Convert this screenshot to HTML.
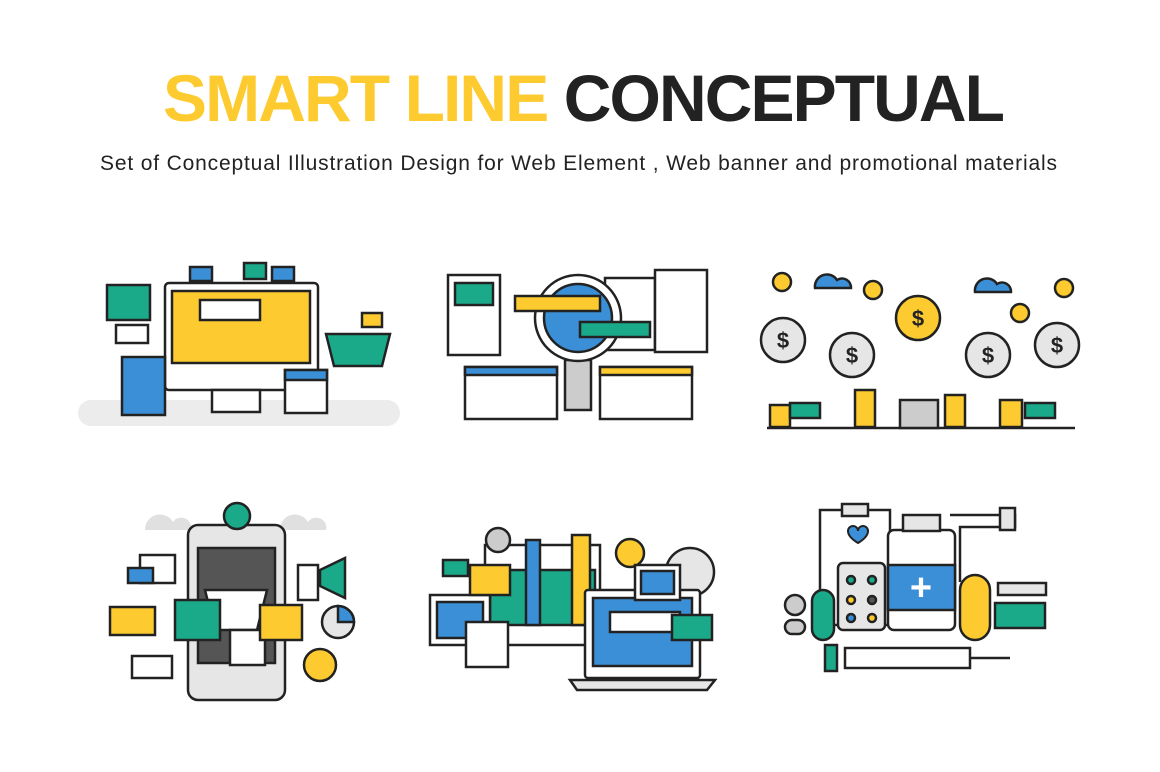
<!DOCTYPE html>
<html><head><meta charset="utf-8"><style>
html,body{margin:0;padding:0;background:#fff;width:1160px;height:772px;overflow:hidden}
svg{display:block}
</style></head><body>
<svg width="1160" height="772" viewBox="0 0 1160 772" xmlns="http://www.w3.org/2000/svg" font-family="Liberation Sans, sans-serif">
<text x="163" y="121" font-size="66" font-weight="bold" textLength="842" lengthAdjust="spacing"><tspan fill="#fdcb2f">SMART LINE </tspan><tspan fill="#222">CONCEPTUAL</tspan></text>
<text x="100" y="170" font-size="21" fill="#222" textLength="957" lengthAdjust="spacing">Set of Conceptual Illustration Design for Web Element , Web banner  and promotional materials</text>

<g stroke="#222" stroke-width="2.5">
<!-- Panel 1 -->
<rect x="78" y="400" width="322" height="26" rx="13" fill="#ececec" stroke="none"/>
<rect x="165" y="283" width="153" height="107" rx="4" fill="#fff"/>
<rect x="172" y="291" width="138" height="72" fill="#fdcb2f"/>
<rect x="200" y="300" width="60" height="20" fill="#fff"/>
<rect x="212" y="390" width="48" height="22" fill="#fff"/>
<rect x="190" y="267" width="22" height="14" fill="#3b8fd6"/>
<rect x="244" y="263" width="22" height="16" fill="#1aaa8a"/>
<rect x="272" y="267" width="22" height="14" fill="#3b8fd6"/>
<rect x="107" y="285" width="43" height="35" fill="#1aaa8a"/>
<rect x="122" y="357" width="43" height="58" fill="#3b8fd6"/>
<path d="M326 334h64l-8 32h-48z" fill="#1aaa8a"/>
<rect x="285" y="370" width="42" height="43" fill="#fff"/>
<rect x="285" y="370" width="42" height="10" fill="#3b8fd6"/>
<rect x="116" y="325" width="32" height="18" fill="#fff"/>
<rect x="362" y="313" width="20" height="14" fill="#fdcb2f"/>
<!-- Panel 2 -->
<rect x="448" y="275" width="52" height="80" fill="#fff"/>
<rect x="455" y="283" width="38" height="22" fill="#1aaa8a"/>
<rect x="605" y="278" width="50" height="72" fill="#fff"/>
<rect x="655" y="270" width="52" height="82" fill="#fff"/>
<rect x="465" y="367" width="92" height="52" fill="#fff"/>
<rect x="465" y="367" width="92" height="8" fill="#3b8fd6"/>
<rect x="600" y="367" width="92" height="52" fill="#fff"/>
<rect x="600" y="367" width="92" height="8" fill="#fdcb2f"/>
<rect x="565" y="360" width="26" height="50" fill="#ccc"/>
<circle cx="578" cy="318" r="43" fill="#fff"/>
<circle cx="578" cy="318" r="34" fill="#3b8fd6"/>
<rect x="515" y="296" width="85" height="15" fill="#fdcb2f"/>
<rect x="580" y="322" width="70" height="15" fill="#1aaa8a"/>
<!-- Panel 3 -->
<line x1="767" y1="428" x2="1075" y2="428"/>
<g fill="#fdcb2f">
<rect x="770" y="405" width="20" height="22"/><rect x="855" y="390" width="20" height="37"/><rect x="945" y="395" width="20" height="32"/><rect x="1000" y="400" width="22" height="27"/>
</g>
<rect x="900" y="400" width="38" height="28" fill="#ccc"/>
<g fill="#e6e6e6"><circle cx="783" cy="340" r="22"/><circle cx="852" cy="355" r="22"/><circle cx="988" cy="355" r="22"/><circle cx="1057" cy="345" r="22"/></g>
<circle cx="918" cy="318" r="22" fill="#fdcb2f"/>
<path d="M815 288a12 12 0 0 1 22-8a9 9 0 0 1 14 8z" fill="#3b8fd6"/>
<path d="M975 292a12 12 0 0 1 22-8a9 9 0 0 1 14 8z" fill="#3b8fd6"/>
<circle cx="782" cy="282" r="9" fill="#fdcb2f"/><circle cx="873" cy="290" r="9" fill="#fdcb2f"/><circle cx="1064" cy="288" r="9" fill="#fdcb2f"/><circle cx="1020" cy="313" r="9" fill="#fdcb2f"/>
<rect x="790" y="403" width="30" height="15" fill="#1aaa8a"/><rect x="1025" y="403" width="30" height="15" fill="#1aaa8a"/>
</g>
<g font-size="22" font-weight="bold" fill="#222" text-anchor="middle"><text x="783" y="348">$</text><text x="852" y="363">$</text><text x="918" y="326">$</text><text x="988" y="363">$</text><text x="1057" y="353">$</text></g>

<g stroke="#222" stroke-width="2.5">
<!-- Panel 4 -->
<path d="M145 530a15 15 0 0 1 28-8a10 10 0 0 1 18 8z" fill="#e0e0e0" stroke="none"/>
<path d="M280 530a15 15 0 0 1 28-8a10 10 0 0 1 18 8z" fill="#e0e0e0" stroke="none"/>
<rect x="188" y="525" width="97" height="175" rx="10" fill="#e6e6e6"/>
<rect x="198" y="548" width="77" height="115" fill="#555"/>
<path d="M205 590h62l-10 40h-42z" fill="#fff"/>
<rect x="230" y="630" width="35" height="35" fill="#fff"/>
<rect x="175" y="600" width="45" height="40" fill="#1aaa8a"/>
<rect x="260" y="605" width="42" height="35" fill="#fdcb2f"/>
<circle cx="237" cy="516" r="13" fill="#1aaa8a"/>
<rect x="110" y="607" width="45" height="28" fill="#fdcb2f"/>
<rect x="140" y="555" width="35" height="28" fill="#fff"/>
<rect x="128" y="568" width="25" height="15" fill="#3b8fd6"/>
<rect x="132" y="656" width="40" height="22" fill="#fff"/>
<rect x="298" y="565" width="20" height="35" fill="#fff"/>
<path d="M320 570l25-12v40l-25-12z" fill="#1aaa8a"/>
<circle cx="338" cy="622" r="16" fill="#e6e6e6"/>
<path d="M338 622v-16a16 16 0 0 1 16 16z" fill="#3b8fd6"/>
<circle cx="320" cy="665" r="16" fill="#fdcb2f"/>
<!-- Panel 5 -->
<rect x="485" y="545" width="115" height="100" fill="#fff"/>
<rect x="490" y="570" width="105" height="55" fill="#1aaa8a"/>
<rect x="430" y="595" width="60" height="50" fill="#fff"/>
<rect x="437" y="602" width="46" height="36" fill="#3b8fd6"/>
<rect x="470" y="565" width="40" height="30" fill="#fdcb2f"/>
<rect x="443" y="560" width="25" height="16" fill="#1aaa8a"/>
<rect x="466" y="622" width="42" height="45" fill="#fff"/>
<rect x="572" y="535" width="18" height="90" fill="#fdcb2f"/>
<rect x="526" y="540" width="14" height="85" fill="#3b8fd6"/>
<circle cx="498" cy="540" r="12" fill="#ccc"/>
<circle cx="690" cy="572" r="24" fill="#e6e6e6"/>
<circle cx="630" cy="553" r="14" fill="#fdcb2f"/>
<rect x="585" y="590" width="115" height="88" rx="3" fill="#fff"/>
<rect x="593" y="598" width="99" height="68" fill="#3b8fd6"/>
<rect x="610" y="612" width="70" height="20" fill="#fff"/>
<path d="M570 680h145l-8 10h-130z" fill="#e6e6e6"/>
<rect x="635" y="565" width="45" height="35" fill="#fff"/>
<rect x="641" y="571" width="33" height="23" fill="#3b8fd6"/>
<rect x="672" y="615" width="40" height="25" fill="#1aaa8a"/>
<!-- Panel 6 -->
<rect x="820" y="510" width="70" height="115" fill="#fff"/>
<rect x="842" y="504" width="26" height="12" fill="#e6e6e6"/>
<rect x="888" y="530" width="67" height="100" rx="6" fill="#fff"/>
<rect x="903" y="515" width="37" height="16" fill="#e6e6e6"/>
<rect x="888" y="565" width="67" height="45" fill="#3b8fd6"/>
<rect x="838" y="563" width="47" height="67" rx="5" fill="#e6e6e6"/>
<circle cx="851" cy="580" r="4" fill="#1aaa8a"/><circle cx="872" cy="580" r="4" fill="#1aaa8a"/><circle cx="851" cy="600" r="4" fill="#fdcb2f"/><circle cx="872" cy="600" r="4" fill="#555"/><circle cx="851" cy="618" r="4" fill="#3b8fd6"/><circle cx="872" cy="618" r="4" fill="#fdcb2f"/>
<rect x="812" y="590" width="22" height="50" rx="11" fill="#1aaa8a"/>
<circle cx="795" cy="605" r="10" fill="#ccc"/><rect x="785" y="620" width="20" height="14" rx="7" fill="#ccc"/>
<rect x="960" y="575" width="30" height="65" rx="15" fill="#fdcb2f"/>
<path d="M950 515h65v12h-55v55" fill="none"/>
<rect x="1000" y="508" width="15" height="22" fill="#e6e6e6"/>
<rect x="998" y="583" width="48" height="12" fill="#e6e6e6"/>
<rect x="995" y="603" width="50" height="25" fill="#1aaa8a"/>
<rect x="845" y="648" width="125" height="20" fill="#fff"/>
<rect x="825" y="645" width="12" height="26" fill="#1aaa8a"/>
<line x1="970" y1="658" x2="1010" y2="658"/>
</g>
<g fill="#fff" font-size="38" font-weight="bold" text-anchor="middle"><text x="921" y="600">+</text></g>
<path d="M858 531a5 5 0 0 1 10 0q0 6-10 12q-10-6-10-12a5 5 0 0 1 10 0z" fill="#3b8fd6" stroke="#222" stroke-width="2"/>
</svg>
</body></html>
